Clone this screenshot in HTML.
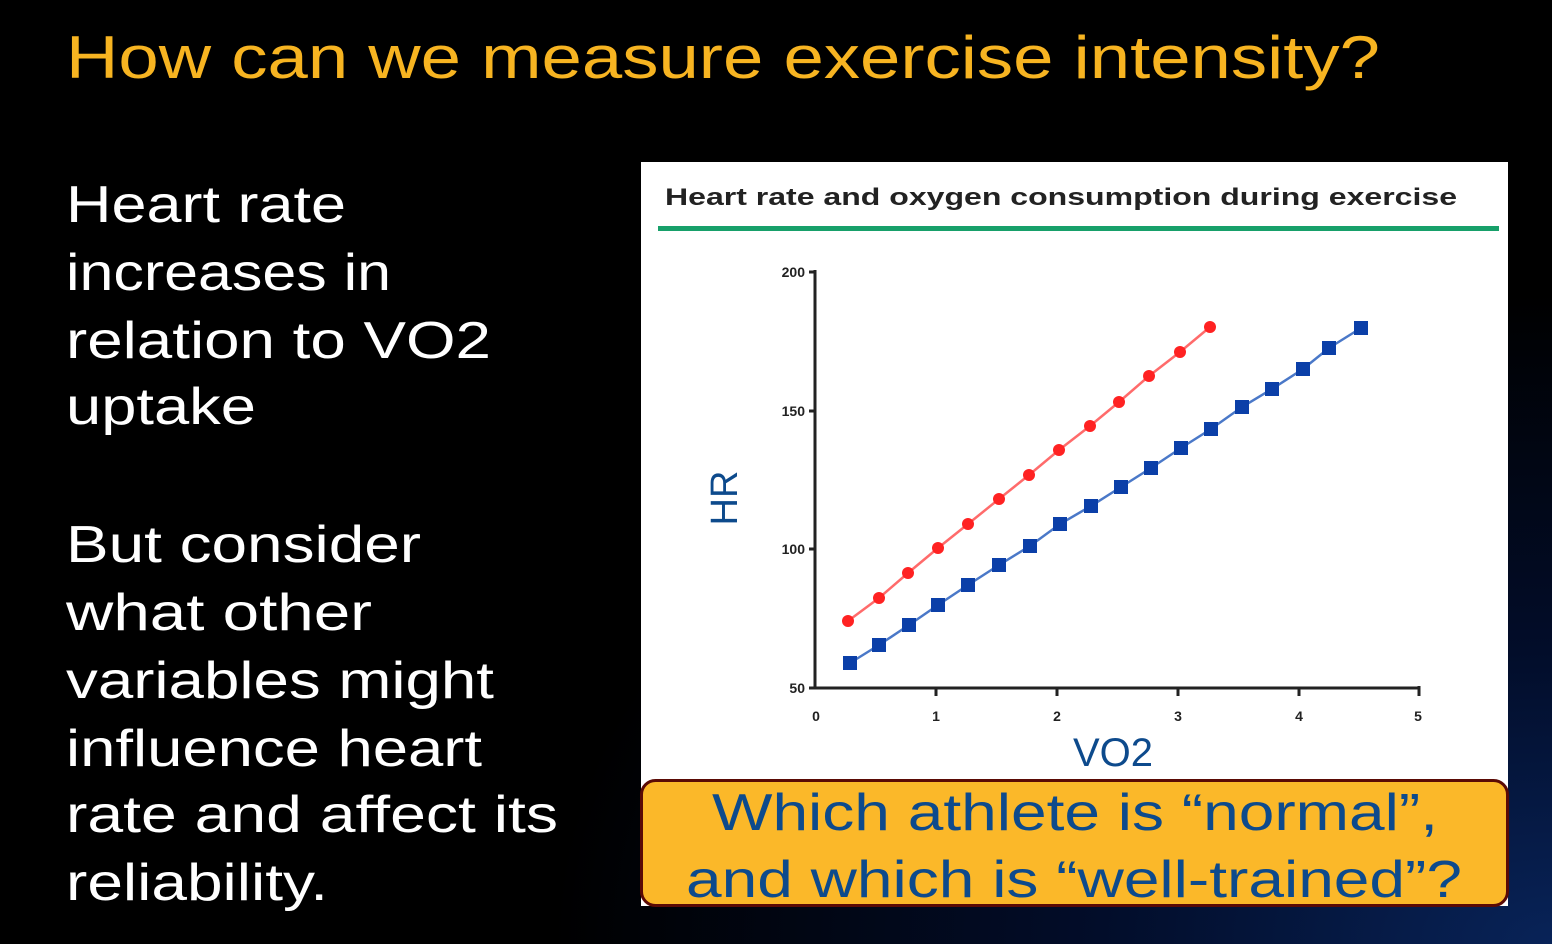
<!DOCTYPE html>
<html><head><style>
html,body{margin:0;padding:0;}
body{width:1552px;height:944px;overflow:hidden;background:radial-gradient(ellipse 1000px 650px at 1552px 944px,#082358 0%,#020d2a 45%,#000 100%);font-family:"Liberation Sans",sans-serif;}
</style></head><body>
<svg width="1552" height="944" xmlns="http://www.w3.org/2000/svg" style="position:absolute;left:0;top:0">
<text x="66" y="78" font-size="60" fill="#f7b421" textLength="1314" lengthAdjust="spacingAndGlyphs">How can we measure exercise intensity?</text>
<g fill="#fff" font-size="52">
<text x="66" y="222" textLength="280" lengthAdjust="spacingAndGlyphs">Heart rate</text>
<text x="66" y="290" textLength="325" lengthAdjust="spacingAndGlyphs">increases in</text>
<text x="66" y="358" textLength="425" lengthAdjust="spacingAndGlyphs">relation to VO2</text>
<text x="66" y="424" textLength="190" lengthAdjust="spacingAndGlyphs">uptake</text>
<text x="66" y="562" textLength="355" lengthAdjust="spacingAndGlyphs">But consider</text>
<text x="66" y="630" textLength="306" lengthAdjust="spacingAndGlyphs">what other</text>
<text x="66" y="698" textLength="428" lengthAdjust="spacingAndGlyphs">variables might</text>
<text x="66" y="766" textLength="416" lengthAdjust="spacingAndGlyphs">influence heart</text>
<text x="66" y="832" textLength="492" lengthAdjust="spacingAndGlyphs">rate and affect its</text>
<text x="66" y="900" textLength="262" lengthAdjust="spacingAndGlyphs">reliability.</text>
</g>
<rect x="641" y="162" width="867" height="744" fill="#fff"/>
<text x="665" y="205" font-size="24" font-weight="bold" fill="#222" textLength="792" lengthAdjust="spacingAndGlyphs">Heart rate and oxygen consumption during exercise</text>
<rect x="658" y="226" width="841" height="5" fill="#17a06a"/>
<g stroke="#222" stroke-width="3" fill="none">
<path d="M815 270 V688 H1420"/>
<path d="M809 272h6M809 411h6M809 549h6M809 688h6"/>
<path d="M936 688v8M1057 688v8M1178 688v8M1299 688v8M1419 686v10"/>
</g>
<g font-size="14" font-weight="bold" fill="#222" text-anchor="end">
<text x="805" y="277">200</text><text x="805" y="416">150</text><text x="805" y="554">100</text><text x="805" y="693">50</text>
</g>
<g font-size="14" font-weight="bold" fill="#222" text-anchor="middle">
<text x="816" y="721">0</text><text x="936" y="721">1</text><text x="1057" y="721">2</text><text x="1178" y="721">3</text><text x="1299" y="721">4</text><text x="1418" y="721">5</text>
</g>
<text transform="translate(737,498) rotate(-90)" font-size="38" fill="#0d4a8c" text-anchor="middle">HR</text>
<text x="1113" y="766" font-size="40" fill="#0d4a8c" text-anchor="middle">VO2</text>
<polyline fill="none" stroke="#ff6b6b" stroke-width="2.5" points="848,621 879,598 908,573 938,548 968,524 999,499 1029,475 1059,450 1090,426 1119,402 1149,376 1180,352 1210,327"/>
<g fill="#f22">
<circle cx="848" cy="621" r="6"/><circle cx="879" cy="598" r="6"/><circle cx="908" cy="573" r="6"/><circle cx="938" cy="548" r="6"/><circle cx="968" cy="524" r="6"/><circle cx="999" cy="499" r="6"/><circle cx="1029" cy="475" r="6"/><circle cx="1059" cy="450" r="6"/><circle cx="1090" cy="426" r="6"/><circle cx="1119" cy="402" r="6"/><circle cx="1149" cy="376" r="6"/><circle cx="1180" cy="352" r="6"/><circle cx="1210" cy="327" r="6"/>
</g>
<polyline fill="none" stroke="#4a78c8" stroke-width="2.5" points="850,663 879,645 909,625 938,605 968,585 999,565 1030,546 1060,524 1091,506 1121,487 1151,468 1181,448 1211,429 1242,407 1272,389 1303,369 1329,348 1361,328"/>
<g fill="#0b3fa8">
<rect x="843" y="656" width="14" height="14"/><rect x="872" y="638" width="14" height="14"/><rect x="902" y="618" width="14" height="14"/><rect x="931" y="598" width="14" height="14"/><rect x="961" y="578" width="14" height="14"/><rect x="992" y="558" width="14" height="14"/><rect x="1023" y="539" width="14" height="14"/><rect x="1053" y="517" width="14" height="14"/><rect x="1084" y="499" width="14" height="14"/><rect x="1114" y="480" width="14" height="14"/><rect x="1144" y="461" width="14" height="14"/><rect x="1174" y="441" width="14" height="14"/><rect x="1204" y="422" width="14" height="14"/><rect x="1235" y="400" width="14" height="14"/><rect x="1265" y="382" width="14" height="14"/><rect x="1296" y="362" width="14" height="14"/><rect x="1322" y="341" width="14" height="14"/><rect x="1354" y="321" width="14" height="14"/>
</g>
<rect x="641.5" y="780.5" width="866" height="125" rx="14" fill="#fbb829" stroke="#5a0a05" stroke-width="3"/>
<g font-size="52" fill="#0d4a8c">
<text x="712" y="830" textLength="726" lengthAdjust="spacingAndGlyphs">Which athlete is “normal”,</text>
<text x="686" y="897" textLength="776" lengthAdjust="spacingAndGlyphs">and which is “well-trained”?</text>
</g>
</svg>
</body></html>
